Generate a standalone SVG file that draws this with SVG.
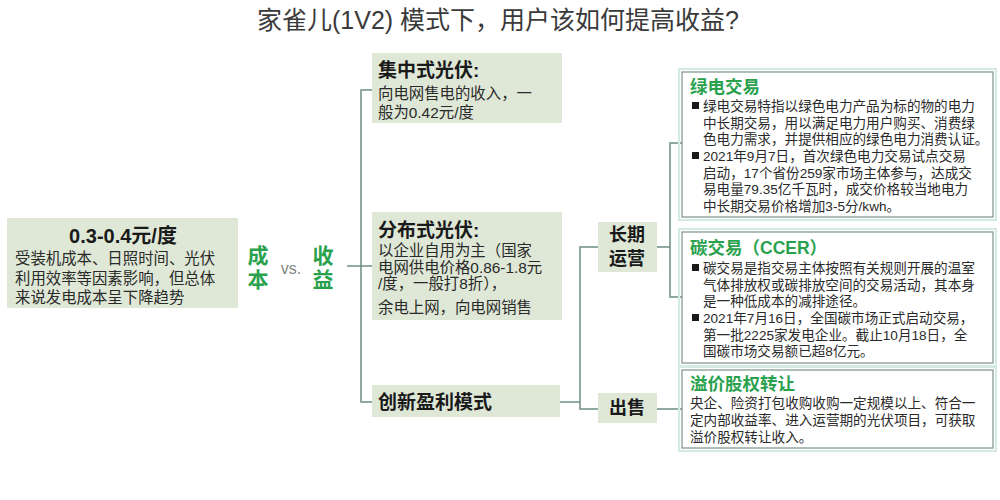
<svg xmlns="http://www.w3.org/2000/svg" width="1000" height="500" viewBox="0 0 1000 500">
<style>
text{font-family:"Liberation Sans","Noto Sans CJK SC",sans-serif;dominant-baseline:central}
.title{font-size:25px;fill:#3a3a3a}
.pale{fill:#dfe8d7}
.h{font-weight:bold;fill:#1a1a1a}
.body{font-size:15.4px;fill:#2a2a2a;font-weight:normal}
.green{font-weight:bold;fill:#2aa14d}
.card{fill:#ffffff;stroke:#7b9489;stroke-width:1.2}
.glow{fill:none;stroke:#d3ebe2;stroke-width:2}
.rt{font-size:17.5px;font-weight:bold;fill:#2aa14d}
.rb{font-size:13.6px;fill:#2a2a2a;font-weight:normal}
.bul{fill:#1a1a1a}
.conn{fill:none;stroke:#6f8d85;stroke-width:1.5}
</style>
<rect width="1000" height="500" fill="#ffffff"/>
<text class="title" x="498" y="20" text-anchor="middle">家雀儿(1V2) 模式下，用户该如何提高收益?</text>

<g id="connectors">
<path class="conn" d="M347 266 H372"/>
<path class="conn" d="M372 90 H361 V402 H372"/>
<path class="conn" d="M560 402 H580" stroke-width="2.5"/>
<path class="conn" d="M598 247 H580 V409 H598"/>
<path class="conn" d="M657 247 H670"/>
<path class="conn" d="M682 143 H670 V297 H682"/>
<path class="conn" d="M657 409 H682"/>
</g>

<g id="cost-box">
<rect class="pale" x="7" y="218" width="231" height="90"/>
<text class="body"><tspan class="h" x="123" y="236" font-size="20" text-anchor="middle">0.3-0.4元/度</tspan><tspan x="15" y="258" text-anchor="start">受装机成本、日照时间、光伏</tspan><tspan x="15" y="277.5">利用效率等因素影响，但总体</tspan><tspan x="15" y="297">来说发电成本呈下降趋势</tspan></text>
</g>

<g id="cost-vs-revenue">
<text class="green" font-size="21" text-anchor="middle"><tspan x="258" y="255">成</tspan><tspan x="258" y="279">本</tspan></text>
<text x="291" y="268" font-size="16" fill="#7f8782" text-anchor="middle">vs.</text>
<text class="green" font-size="21" text-anchor="middle"><tspan x="323" y="255">收</tspan><tspan x="323" y="279">益</tspan></text>
</g>

<g id="centralized">
<rect class="pale" x="372" y="53" width="190" height="70"/>
<text class="body"><tspan class="h" x="378" y="70" font-size="19">集中式光伏:</tspan><tspan x="378" y="93">向电网售电的收入，一</tspan><tspan x="378" y="112">般为0.42元/度</tspan></text>
</g>

<g id="distributed">
<rect class="pale" x="372" y="212" width="190" height="108"/>
<text class="body" font-size="14.7"><tspan class="h" x="378" y="230" font-size="19">分布式光伏:</tspan><tspan x="378" y="250">以企业自用为主（国家</tspan><tspan x="378" y="266.5">电网供电价格0.86-1.8元</tspan><tspan x="378" y="283">/度，一般打8折），</tspan><tspan x="378" y="307">余电上网，向电网销售</tspan></text>
</g>

<g id="innovation">
<rect class="pale" x="372" y="385" width="188" height="32"/>
<text class="h" x="378" y="402" font-size="19">创新盈利模式</text>
</g>

<g id="long-term">
<rect class="pale" x="598" y="222" width="59" height="50"/>
<text class="h" font-size="18" text-anchor="middle"><tspan x="627" y="235">长期</tspan><tspan x="627" y="259">运营</tspan></text>
</g>

<g id="sell">
<rect class="pale" x="598" y="393" width="59" height="30"/>
<text class="h" x="627" y="408" font-size="18" text-anchor="middle">出售</text>
</g>

<g id="green-power">
<rect class="glow" x="679" y="69" width="317" height="151"/>
<rect class="card" x="682" y="72" width="311" height="145"/>
<rect class="bul" x="692" y="102" width="7" height="7"/>
<rect class="bul" x="692" y="152" width="7" height="7"/>
<text class="rb"><tspan class="rt" x="690" y="87">绿电交易</tspan><tspan x="703" y="106">绿电交易特指以绿色电力产品为标的物的电力</tspan><tspan x="703" y="122.5">中长期交易，用以满足电力用户购买、消费绿</tspan><tspan x="703" y="139">色电力需求，并提供相应的绿色电力消费认证。</tspan><tspan x="703" y="156">2021年9月7日，首次绿色电力交易试点交易</tspan><tspan x="703" y="172.5">启动，17个省份259家市场主体参与，达成交</tspan><tspan x="703" y="189">易电量79.35亿千瓦时，成交价格较当地电力</tspan><tspan x="703" y="205.5">中长期交易价格增加3-5分/kwh。</tspan></text>
</g>

<g id="carbon">
<rect class="glow" x="679" y="229" width="317" height="137"/>
<rect class="card" x="682" y="232" width="311" height="131"/>
<rect class="bul" x="692" y="264" width="7" height="7"/>
<rect class="bul" x="692" y="314" width="7" height="7"/>
<text class="rb"><tspan class="rt" x="690" y="248">碳交易（CCER）</tspan><tspan x="703" y="268">碳交易是指交易主体按照有关规则开展的温室</tspan><tspan x="703" y="284.5">气体排放权或碳排放空间的交易活动，其本身</tspan><tspan x="703" y="301">是一种低成本的减排途径。</tspan><tspan x="703" y="318">2021年7月16日，全国碳市场正式启动交易，</tspan><tspan x="703" y="334.5">第一批2225家发电企业。截止10月18日，全</tspan><tspan x="703" y="351">国碳市场交易额已超8亿元。</tspan></text>
</g>

<g id="equity">
<rect class="glow" x="679" y="367" width="317" height="84"/>
<rect class="card" x="682" y="370" width="311" height="78"/>
<text class="rb"><tspan class="rt" x="690" y="384">溢价股权转让</tspan><tspan x="690" y="403">央企、险资打包收购收购一定规模以上、符合一</tspan><tspan x="690" y="420">定内部收益率、进入运营期的光伏项目，可获取</tspan><tspan x="690" y="437">溢价股权转让收入。</tspan></text>
</g>
</svg>
